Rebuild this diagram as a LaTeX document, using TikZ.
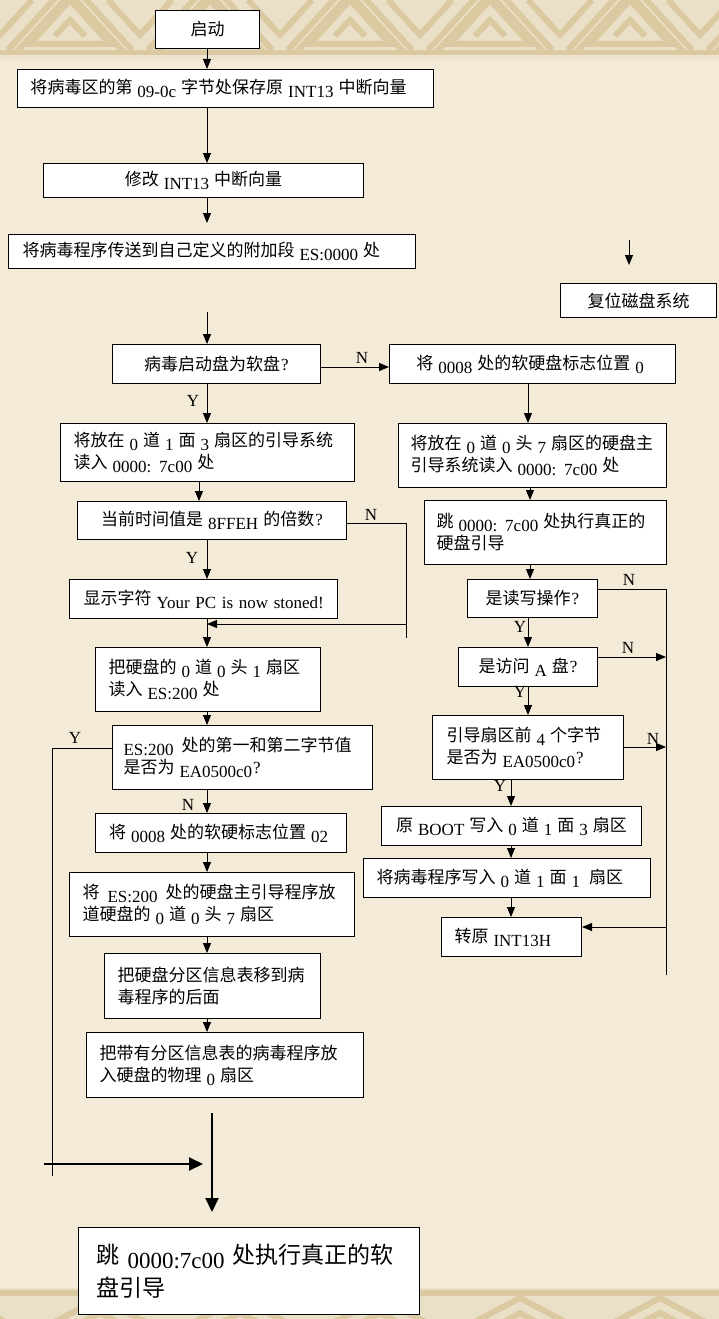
\documentclass[tikz,border=0pt]{standalone}
\usepackage{fontspec}
\setmainfont{Liberation Serif}
\newfontfamily\cjk{Noto Sans CJK SC}
\usetikzlibrary{arrows.meta}
\definecolor{bg}{RGB}{243,234,215}
\definecolor{band}{RGB}{234,224,200}
\definecolor{tanc}{RGB}{218,201,161}
\newcommand\Lt[1]{\kern5pt\raisebox{-4pt}{\fontsize{17}{17}\rmfamily #1}\kern5pt}
\newcommand\LtB[1]{\kern8pt\raisebox{-5pt}{\fontsize{23}{23}\rmfamily #1}\kern8pt}
\newcommand\Qm{{\rmfamily\kern1pt?}}
\tikzset{
  box/.style={draw=black, fill=white, line width=1pt, inner ysep=0pt, anchor=north west,
    font=\cjk\fontsize{17}{22}\selectfont},
  cbox/.style={box, inner xsep=2pt, align=center},
  lbox/.style={box, align=left},
  arr/.style={-{Triangle[length=10pt,width=8pt]}, line width=0.9pt},
  plain/.style={line width=0.9pt},
  big/.style={-{Triangle[length=14pt,width=13pt]}, line width=2pt},
  lbl/.style={font=\fontsize{17}{17}\rmfamily, inner sep=0pt},
  fret/.style={draw=tanc, line width=6pt, line join=miter}
}
\begin{document}
\begin{tikzpicture}[x=1pt,y=-1pt]
\useasboundingbox (0,0) rectangle (719,1319);
\fill[bg] (0,0) rectangle (719,1319);
% top decorative band
\fill[band] (0,0) rectangle (719,56);
\begin{scope}
\clip (0,0) rectangle (719,50);
\foreach \i in {-1,...,5}{
  \pgfmathsetmacro\xx{\i*140}
  \draw[fret] (\xx+8,50) -- (\xx+70,-18) -- (\xx+132,50);
  \draw[fret] (\xx+30,44) -- (\xx+70,0) -- (\xx+110,44) -- cycle;
  \draw[fret] (\xx+55,36) -- (\xx+70,20) -- (\xx+85,36);
  \draw[fret] (\xx+70,-6) -- (\xx+140,70) -- (\xx+210,-6);
  \draw[fret] (\xx+108,0) -- (\xx+140,35) -- (\xx+172,0);
}
\end{scope}
\fill[tanc] (0,50) rectangle (719,55);
\fill[bg!50!band] (0,55) rectangle (719,60);
% bottom decorative band
\fill[band] (0,1288) rectangle (719,1319);
\fill[tanc] (0,1290) rectangle (719,1296);
\begin{scope}
\clip (0,1296) rectangle (719,1319);
\foreach \i in {-1,...,5}{
  \pgfmathsetmacro\xx{\i*140+30}
  \draw[fret] (\xx,1335) -- (\xx+70,1298) -- (\xx+140,1335);
  \draw[fret] (\xx+28,1335) -- (\xx+70,1313) -- (\xx+112,1335);
}
\end{scope}

% ---------- left column nodes ----------
\node[cbox, minimum width=104pt, minimum height=38pt] (n1) at (155,10) {启动};
\node[lbox, inner xsep=13pt, text width=390pt, minimum height=38pt] (n2) at (17,69)
  {将病毒区的第\Lt{09-0c}字节处保存原\Lt{INT13}中断向量};
\node[cbox, minimum width=320pt, minimum height=34pt] (n3) at (43,163)
  {修改\Lt{INT13}中断向量};
\node[lbox, inner xsep=14pt, text width=379pt, minimum height=34pt] (n4) at (8,234)
  {将病毒程序传送到自己定义的附加段\Lt{ES:0000}处};
\node[cbox, minimum width=208pt, minimum height=39pt] (n5) at (112,344)
  {病毒启动盘为软盘\Qm};
\node[lbox, inner xsep=13pt, text width=268pt, minimum height=58pt] (n6) at (60,423)
  {将放在\Lt{0}道\Lt{1}面\Lt{3}扇区的引导系统\\读入\Lt{0000:\kern8pt 7c00}处};
\node[cbox, minimum width=269pt, minimum height=38pt] (n7) at (77,501)
  {当前时间值是\Lt{8FFEH}的倍数\Qm};
\node[lbox, inner xsep=14pt, text width=240pt, minimum height=39pt] (n8) at (69,579)
  {显示字符\Lt{Your PC is now stoned!}};
\node[lbox, inner xsep=13pt, text width=199pt, minimum height=64pt] (n9) at (95,647)
  {把硬盘的\Lt{0}道\Lt{0}头\Lt{1}扇区\\读入\Lt{ES:200}处};
\node[lbox, inner xsep=11pt, text width=238pt, minimum height=64pt] (n10) at (112,725)
  {\kern-5pt\Lt{ES:200}\kern3pt 处的第一和第二字节值\\是否为\Lt{EA0500c0}\kern-5pt\Qm};
\node[cbox, minimum width=251pt, minimum height=39pt] (n11) at (95,813)
  {将\Lt{0008}处的软硬标志位置\Lt{02}};
\node[lbox, inner xsep=13pt, text width=259pt, minimum height=64pt] (n12) at (69,872)
  {将\kern3pt\Lt{ES:200}\kern3pt 处的硬盘主引导程序放\\道硬盘的\Lt{0}道\Lt{0}头\Lt{7}扇区};
\node[lbox, inner xsep=13pt, text width=190pt, minimum height=65pt] (n13) at (104,953)
  {把硬盘分区信息表移到病\\毒程序的后面};
\node[lbox, inner xsep=13pt, text width=251pt, minimum height=65pt] (n14) at (86,1032)
  {把带有分区信息表的病毒程序放\\入硬盘的物理\Lt{0}扇区};
\node[lbox, inner xsep=18pt, text width=305pt, minimum height=87pt,
  font=\cjk\fontsize{23}{33}\selectfont] (n15) at (78,1227)
  {跳\LtB{0000:7c00}处执行真正的软\\盘引导\\[-6pt]};

% ---------- right column nodes ----------
\node[cbox, minimum width=156pt, minimum height=34pt] (r0) at (560,283) {复位磁盘系统};
\node[cbox, minimum width=286pt, minimum height=39pt] (r1) at (389,344)
  {将\Lt{0008}处的软硬盘标志位置\Lt{0}};
\node[lbox, inner xsep=12pt, text width=244pt, minimum height=64pt] (r2) at (398,423)
  {将放在\Lt{0}道\Lt{0}头\Lt{7}扇区的硬盘主\\引导系统读入\Lt{0000:\kern8pt 7c00}处};
\node[lbox, inner xsep=12pt, text width=218pt, minimum height=64pt] (r3) at (424,500)
  {跳\Lt{0000:\kern8pt 7c00}处执行真正的\\硬盘引导};
\node[cbox, minimum width=130pt, minimum height=38pt] (r4) at (467,579) {是读写操作\Qm};
\node[cbox, minimum width=139pt, minimum height=39pt] (r5) at (458,647) {是访问\Lt{A}盘\Qm};
\node[lbox, inner xsep=14pt, text width=163pt, minimum height=64pt] (r6) at (432,715)
  {引导扇区前\Lt{4}个字节\\是否为\Lt{EA0500c0}\kern-5pt\Qm};
\node[cbox, minimum width=260pt, minimum height=39pt] (r7) at (381,806)
  {原\Lt{BOOT}写入\Lt{0}道\Lt{1}面\Lt{3}扇区};
\node[lbox, inner xsep=13pt, text width=261pt, minimum height=39pt] (r8) at (363,858)
  {将病毒程序写入\Lt{0}道\Lt{1}面\Lt{1}\kern4pt 扇区};
\node[lbox, inner xsep=13pt, text width=114pt, minimum height=39pt] (r9) at (441,917)
  {转原\Lt{INT13H}};

% ---------- column coordinates ----------
\coordinate (cL) at (207,0);
\coordinate (cL2) at (199,0);
\coordinate (cR1) at (528,0);
\coordinate (cR2) at (530,0);
\coordinate (cR3) at (511,0);

% ---------- left connectors ----------
\draw[arr] (n1.south -| cL) -- (n2.north -| cL);
\draw[arr] (n2.south -| cL) -- (n3.north -| cL);
\coordinate (f1) at (207,223);
\draw[arr] (n3.south -| cL) -- (f1);
\coordinate (f2) at (207,312);
\draw[arr] (f2) -- (n5.north -| cL);
\draw[arr] (n5.south -| cL) -- (n6.north -| cL);
\node[lbl] (ly1) at (193,401) {Y};
\coordinate (yN5) at (0,367);
\draw[arr] (n5.east |- yN5) -- (r1.west |- yN5);
\node[lbl] (ln1) at (362,358) {N};
\draw[arr] (n6.south -| cL2) -- (n7.north -| cL2);
\draw[arr] (n7.south -| cL) -- (n8.north -| cL);
\node[lbl] (ly2) at (192,558) {Y};
\coordinate (k1) at (406,523);
\coordinate (k2) at (406,638);
\coordinate (k3) at (406,624);
\draw[plain] (n7.east |- k1) -- (k1) -- (k2);
\draw[arr] (k3) -- (k3 -| cL);
\node[lbl] (ln2) at (371,515) {N};
\draw[plain] (n8.south -| cL) -- (k3 -| cL);
\draw[arr] (k3 -| cL) -- (n9.north -| cL);
\draw[arr] (n9.south -| cL) -- (n10.north -| cL);
\coordinate (y1) at (52,748);
\coordinate (y2) at (52,1176);
\draw[plain] (n10.west |- y1) -- (y1) -- (y2);
\node[lbl] (ly3) at (75,738) {Y};
\draw[arr] (n10.south -| cL) -- (n11.north -| cL);
\node[lbl] (ln3) at (188,805) {N};
\draw[arr] (n11.south -| cL) -- (n12.north -| cL);
\draw[arr] (n12.south -| cL) -- (n13.north -| cL);
\draw[arr] (n13.south -| cL) -- (n14.north -| cL);
\coordinate (b1) at (212,1113);
\coordinate (b2) at (212,1212);
\draw[big] (b1) -- (b2);
\coordinate (h1) at (44,1164);
\coordinate (h2) at (203,1164);
\draw[big] (h1) -- (h2);

% ---------- right connectors ----------
\coordinate (f3) at (629,240);
\coordinate (f4) at (629,265);
\draw[arr] (f3) -- (f4);
\draw[arr] (r1.south -| cR1) -- (r2.north -| cR1);
\draw[arr] (r2.south -| cR2) -- (r3.north -| cR2);
\draw[arr] (r3.south -| cR2) -- (r4.north -| cR2);
\draw[arr] (r4.south -| cR1) -- (r5.north -| cR1);
\node[lbl] (ly4) at (520,627) {Y};
\coordinate (bt) at (666,589);
\coordinate (bb) at (666,975);
\draw[plain] (r4.east |- bt) -- (bt) -- (bb);
\node[lbl] (ln4) at (629,580) {N};
\coordinate (e5) at (666,657);
\draw[arr] (r5.east |- e5) -- (e5);
\node[lbl] (ln5) at (628,648) {N};
\draw[arr] (r5.south -| cR1) -- (r6.north -| cR1);
\node[lbl] (ly5) at (520,692) {Y};
\coordinate (e6) at (666,747);
\draw[arr] (r6.east |- e6) -- (e6);
\node[lbl] (ln6) at (653,739) {N};
\draw[arr] (r6.south -| cR3) -- (r7.north -| cR3);
\node[lbl] (ly6) at (500,786) {Y};
\draw[arr] (r7.south -| cR3) -- (r8.north -| cR3);
\draw[arr] (r8.south -| cR3) -- (r9.north -| cR3);
\coordinate (e9) at (666,927);
\draw[arr] (e9) -- (r9.east |- e9);
\end{tikzpicture}
\end{document}
